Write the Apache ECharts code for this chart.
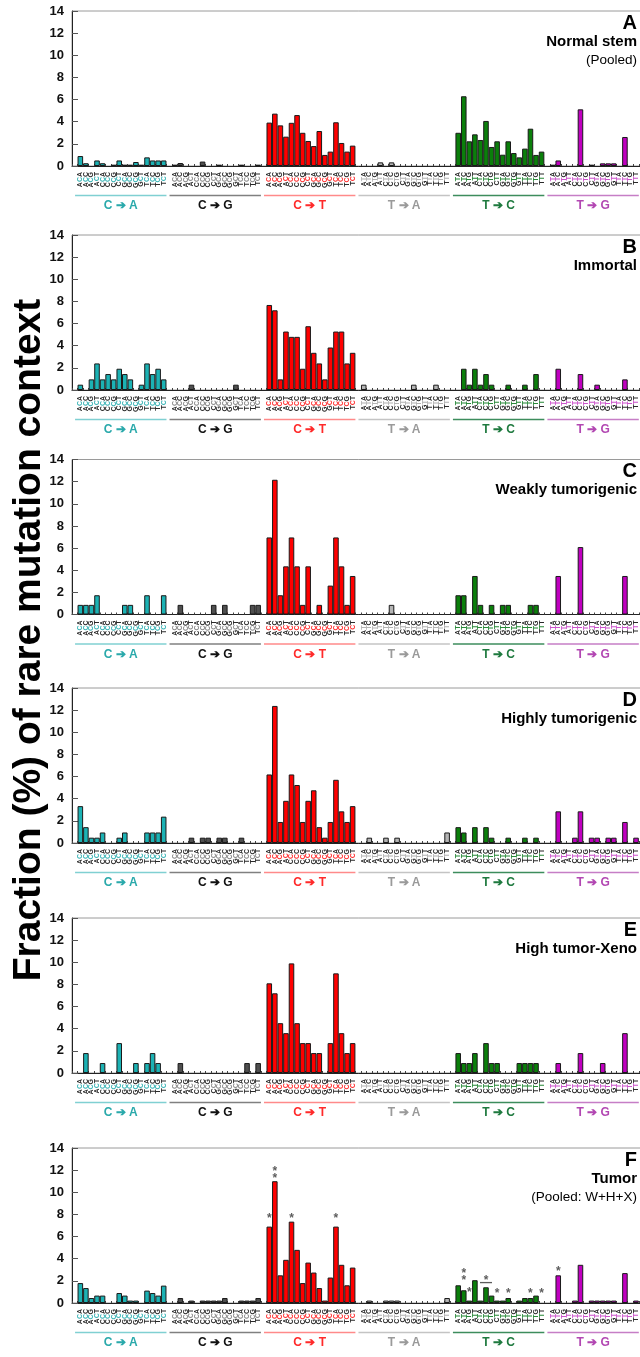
<!DOCTYPE html>
<html><head><meta charset="utf-8">
<script src="https://cdn.jsdelivr.net/npm/echarts@6/dist/echarts.min.js"></script>
<style>html,body{margin:0;padding:0;overflow:hidden;background:#fff}#main{width:700px;height:1357px}</style>
</head><body><div id="main"></div>
<script>
// ---- categories / labels ----
const contextsC = ['ACA','ACC','ACG','ACT','CCA','CCC','CCG','CCT','GCA','GCC','GCG','GCT','TCA','TCC','TCG','TCT'];
const contextsT = ['ATA','ATC','ATG','ATT','CTA','CTC','CTG','CTT','GTA','GTC','GTG','GTT','TTA','TTC','TTG','TTT'];
const mutationTypes = ['C ➔ A','C ➔ G','C ➔ T','T ➔ A','T ➔ C','T ➔ G'];
const panelLetters = ['A','B','C','D','E','F'];
const panelLine1 = ['Normal stem','Immortal','Weakly tumorigenic','Highly tumorigenic','High tumor-Xeno','Tumor'];
const panelLine2 = ['(Pooled)','','','','','(Pooled: W+H+X)'];
const yAxisTitle = 'Fraction (%) of rare mutation context';

// ---- values (% of rare mutation context), 16 contexts per mutation type ----
const panelA_CA = [0.9,0.25,0,0.5,0.25,0,0.12,0.5,0.12,0.12,0.36,0.12,0.78,0.5,0.5,0.5];
const panelA_CG = [0.12,0.27,0,0,0,0.4,0,0,0.12,0,0,0,0.12,0,0,0.12];
const panelA_CT = [3.92,4.73,3.67,2.65,3.9,4.6,3.0,2.26,1.8,3.16,1.0,1.3,3.95,2.08,1.3,1.84];
const panelA_TA = [0,0,0,0.33,0,0.33,0,0,0,0,0,0,0,0,0,0];
const panelA_TC = [3.0,6.3,2.23,2.86,2.35,4.07,1.72,2.23,1.02,2.23,1.17,0.78,1.57,3.37,1.0,1.3];
const panelA_TG = [0.12,0.5,0,0,0,5.12,0,0.12,0,0.24,0.24,0.24,0,2.62,0,0];

const panelB_CA = [0.48,0,0.96,2.4,0.96,1.44,0.96,1.92,1.44,0.96,0,0.48,2.4,1.44,1.92,0.96];
const panelB_CG = [0,0,0,0.48,0,0,0,0,0,0,0,0.48,0,0,0,0];
const panelB_CT = [7.68,7.2,0.96,5.28,4.8,4.8,1.92,5.76,3.36,2.4,0.96,3.84,5.28,5.28,2.4,3.36];
const panelB_TA = [0.48,0,0,0,0,0,0,0,0,0.48,0,0,0,0.48,0,0];
const panelB_TC = [0,1.92,0.48,1.92,0.48,1.44,0.48,0,0,0.48,0,0,0.48,0,1.44,0];
const panelB_TG = [0,1.92,0,0,0,1.44,0,0,0.48,0,0,0,0,0.96,0,0];

const panelC_CA = [0.87,0.87,0.87,1.74,0,0,0,0,0.87,0.87,0,0,1.74,0,0,1.74];
const panelC_CG = [0,0.87,0,0,0,0,0,0.87,0,0.87,0,0,0,0,0.87,0.87];
const panelC_CT = [6.96,12.17,1.74,4.35,6.96,4.35,0.87,4.35,0,0.87,0,2.61,6.96,4.35,0.87,3.48];
const panelC_TA = [0,0,0,0,0,0.87,0,0,0,0,0,0,0,0,0,0];
const panelC_TC = [1.74,1.74,0,3.48,0.87,0,0.87,0,0.87,0.87,0,0,0,0.87,0.87,0];
const panelC_TG = [0,3.48,0,0,0,6.09,0,0,0,0,0,0,0,3.48,0,0];

const panelD_CA = [3.33,1.43,0.48,0.48,0.95,0,0,0.48,0.95,0,0,0,0.95,0.95,0.95,2.38];
const panelD_CG = [0,0,0,0.48,0,0.48,0.48,0,0.48,0.48,0,0,0.48,0,0,0];
const panelD_CT = [6.19,12.38,1.9,3.81,6.19,5.24,1.9,3.81,4.76,1.43,0.48,1.9,5.71,2.86,1.9,3.33];
const panelD_TA = [0,0.48,0,0,0.48,0,0.48,0,0,0,0,0,0,0,0,0.95];
const panelD_TC = [1.43,0.95,0,1.43,0,1.43,0.48,0,0,0.48,0,0,0.48,0,0.48,0];
const panelD_TG = [0,2.86,0,0,0.48,2.86,0,0.48,0.48,0,0.48,0.48,0,1.9,0,0.48];

const panelE_CA = [0,1.8,0,0,0.9,0,0,2.7,0,0,0.9,0,0.9,1.8,0.9,0];
const panelE_CG = [0,0.9,0,0,0,0,0,0,0,0,0,0,0,0.9,0,0.9];
const panelE_CT = [8.1,7.2,4.5,3.6,9.9,4.5,2.7,2.7,1.8,1.8,0,2.7,9.0,3.6,1.8,2.7];
const panelE_TA = [0,0,0,0,0,0,0,0,0,0,0,0,0,0,0,0];
const panelE_TC = [1.8,0.9,0.9,1.8,0,2.7,0.9,0.9,0,0,0,0.9,0.9,0.9,0.9,0];
const panelE_TG = [0,0.9,0,0,0,1.8,0,0,0,0.9,0,0,0,3.6,0,0];

const panelF_CA = [1.8,1.35,0.45,0.67,0.67,0,0,0.9,0.67,0.22,0.22,0,1.12,0.9,0.67,1.57];
const panelF_CG = [0,0.45,0,0.22,0,0.22,0.22,0.22,0.22,0.45,0,0,0.22,0.22,0.22,0.45];
const panelF_CT = [6.9,11.0,2.5,3.9,7.35,4.8,1.8,3.65,2.75,1.35,0.22,2.3,6.9,3.45,1.6,3.2];
const panelF_TA = [0,0.22,0,0,0.22,0.22,0.22,0,0,0,0,0,0,0,0,0.45];
const panelF_TC = [1.6,1.15,0.22,2.06,0.22,1.42,0.67,0.22,0.22,0.45,0,0.22,0.45,0.45,0.67,0];
const panelF_TG = [0,2.5,0,0,0.22,3.45,0,0.22,0.22,0.22,0.22,0.22,0,2.7,0,0.22];

// significance marks in panel F (mutation type index, context index, y value, text)
const markGroup = [2,2,2,2,4,4,4,4,4,4,4,4,5];
const markIdx   = [0,1,4,12,1,2,5,5,7,9,13,15,1];
const markY     = [7.9,11.85,7.9,7.9,2.6,1.2,2.27,1.85,1.15,1.15,1.15,1.15,3.1];
const markText  = ['*','**','*','*','**','*','*','—','*','*','*','*','*'];

const panels = [
  [panelA_CA,panelA_CG,panelA_CT,panelA_TA,panelA_TC,panelA_TG],
  [panelB_CA,panelB_CG,panelB_CT,panelB_TA,panelB_TC,panelB_TG],
  [panelC_CA,panelC_CG,panelC_CT,panelC_TA,panelC_TC,panelC_TG],
  [panelD_CA,panelD_CG,panelD_CT,panelD_TA,panelD_TC,panelD_TG],
  [panelE_CA,panelE_CG,panelE_CT,panelE_TA,panelE_TC,panelE_TG],
  [panelF_CA,panelF_CG,panelF_CT,panelF_TA,panelF_TC,panelF_TG]
];

// ---- styles / layout ----
const barFill   = ['#1cb2b4','#4f4f4f','#ff0000','#b5b5b5','#0b7f0b','#c000c0'];
const midLetter = ['#3ab4b6','#8a8a8a','#ff3030','#b4b4b4','#2a8a3a','#cc55cc'];
const lineCol   = ['#80d0d2','#808080','#ff8a8a','#c4c4c4','#3d8d5d','#c67ec6'];
const grpCol    = ['#2aa9ab','#111111','#ff2a2a','#9a9a9a','#1f7a3f','#b247b2'];
const FONT = '"Liberation Sans", Arial, sans-serif';
const CAT_W = 5.557, N_CAT = 103, GRID_LEFT = 72;
const GRID_TOPS = [11, 235, 459.5, 688, 918, 1148], GRID_H = 155;
const CONTAINER_W = 700;

// categories: per mutation type a gap then 16 contexts; one trailing gap
const cats = [];
for (let g = 0; g < 6; g++) {
  cats.push('gap' + g);
  const ctx = g < 3 ? contextsC : contextsT;
  ctx.forEach(c => cats.push(g + ':' + c));
}
cats.push('gap6');

const rich = { o: { color: '#2a2a2a', fontSize: 7, fontWeight: 'bold', fontFamily: FONT, lineHeight: 7 } };
midLetter.forEach((c, g) => { rich['m' + g] = { color: c, fontSize: 7, fontWeight: 'bold', fontFamily: FONT, lineHeight: 7 }; });

const grid = [], xAxis = [], yAxis = [], series = [], title = [];
for (let p = 0; p < 6; p++) {
  grid.push({ left: GRID_LEFT, top: GRID_TOPS[p], width: CAT_W * N_CAT, height: GRID_H,
    show: true, borderColor: '#9a9a9a', borderWidth: 1 });
  xAxis.push({ type: 'category', gridIndex: p, data: cats,
    axisLine: { lineStyle: { color: '#222', width: 1 } },
    axisTick: { show: true, inside: true, length: 2, interval: 0, lineStyle: { color: '#444' } },
    axisLabel: { interval: 0, rotate: 90, margin: 6, rich: rich,
      formatter: (v) => { if (v.startsWith('gap')) return ''; const g = +v[0]; const s = v.slice(2);
        return '{o|' + s[0] + '}{m' + g + '|' + s[1] + '}{o|' + s[2] + '}'; } },
    splitLine: { show: false } });
  yAxis.push({ type: 'value', gridIndex: p, min: 0, max: 14, interval: 2,
    axisLine: { show: true, lineStyle: { color: '#222', width: 1 } },
    axisTick: { show: true, inside: true, length: 6, lineStyle: { color: '#555' } },
    axisLabel: { color: '#111', fontWeight: 'bold', fontSize: 13, fontFamily: FONT, margin: 8 },
    splitLine: { show: false } });
  const data = [];
  panels[p].forEach((arr, g) => {
    data.push('-');
    arr.forEach(v => data.push(v > 0 ? { value: v, itemStyle: { color: barFill[g] } } : '-'));
  });
  data.push('-');
  series.push({ type: 'bar', xAxisIndex: p, yAxisIndex: p, data: data, barCategoryGap: '0%',
    itemStyle: { borderColor: '#1a1a1a', borderWidth: 1 }, silent: true, animation: false });
  series.push({ type: 'custom', xAxisIndex: p, yAxisIndex: p, clip: false, silent: true, animation: false,
    data: mutationTypes.map((m, g) => [17 * g + 1, 17 * g + 16, g]),
    encode: { x: [0, 1], y: 2 },
    renderItem: (params, api) => {
      const g = api.value(2);
      const p0 = api.coord([api.value(0), 0]);
      const p1 = api.coord([api.value(1), 0]);
      const bw = api.size([1, 0])[0];
      const x1 = p0[0] - bw / 2 - 2.5, x2 = p1[0] + bw / 2, y = p0[1] + 29.5;
      return { type: 'group', children: [
        { type: 'line', shape: { x1: x1, y1: y, x2: x2, y2: y }, style: { stroke: lineCol[g], lineWidth: 1.5 } },
        { type: 'text', x: (x1 + x2) / 2, y: y + 10.5,
          style: { text: mutationTypes[g], fill: grpCol[g], font: 'bold 12px ' + FONT, align: 'center', verticalAlign: 'middle' } }
      ] };
    } });
  const right = CONTAINER_W - 637;
  title.push({ text: panelLetters[p], right: right, top: GRID_TOPS[p] + 2, padding: 0,
    textStyle: { fontSize: 20, fontWeight: 'bold', color: '#000', fontFamily: FONT } });
  title.push({ text: panelLine1[p], right: right, top: GRID_TOPS[p] + 23, padding: 0,
    textStyle: { fontSize: 15, fontWeight: 'bold', color: '#000', fontFamily: FONT } });
  if (panelLine2[p]) title.push({ text: panelLine2[p], right: right, top: GRID_TOPS[p] + 42.5, padding: 0,
    textStyle: { fontSize: 13.5, fontWeight: 'normal', color: '#000', fontFamily: FONT } });
}

// significance marks (panel F)
series.push({ type: 'scatter', xAxisIndex: 5, yAxisIndex: 5, silent: true, animation: false,
  symbolSize: 1, itemStyle: { color: 'rgba(0,0,0,0)' },
  data: markIdx.map((i, k) => ({ value: [17 * markGroup[k] + 1 + i, markY[k]],
    label: { show: true, position: 'inside', formatter: markText[k] === '**' ? '*\n*' : markText[k],
      offset: [0, markText[k] === '—' ? 0 : 3], color: '#333', fontWeight: 'bold', fontSize: 12,
      fontFamily: FONT, lineHeight: 7 } }))
});

const chart = echarts.init(document.getElementById('main'), null, { renderer: 'canvas' });
chart.setOption({
  animation: false,
  backgroundColor: '#fff',
  title: title, grid: grid, xAxis: xAxis, yAxis: yAxis, series: series,
  graphic: [{ type: 'text', x: 29, y: 640, rotation: Math.PI / 2,
    style: { text: yAxisTitle, font: 'bold 39px ' + FONT, fill: '#000', align: 'center', verticalAlign: 'middle' } }]
});
</script></body></html>
